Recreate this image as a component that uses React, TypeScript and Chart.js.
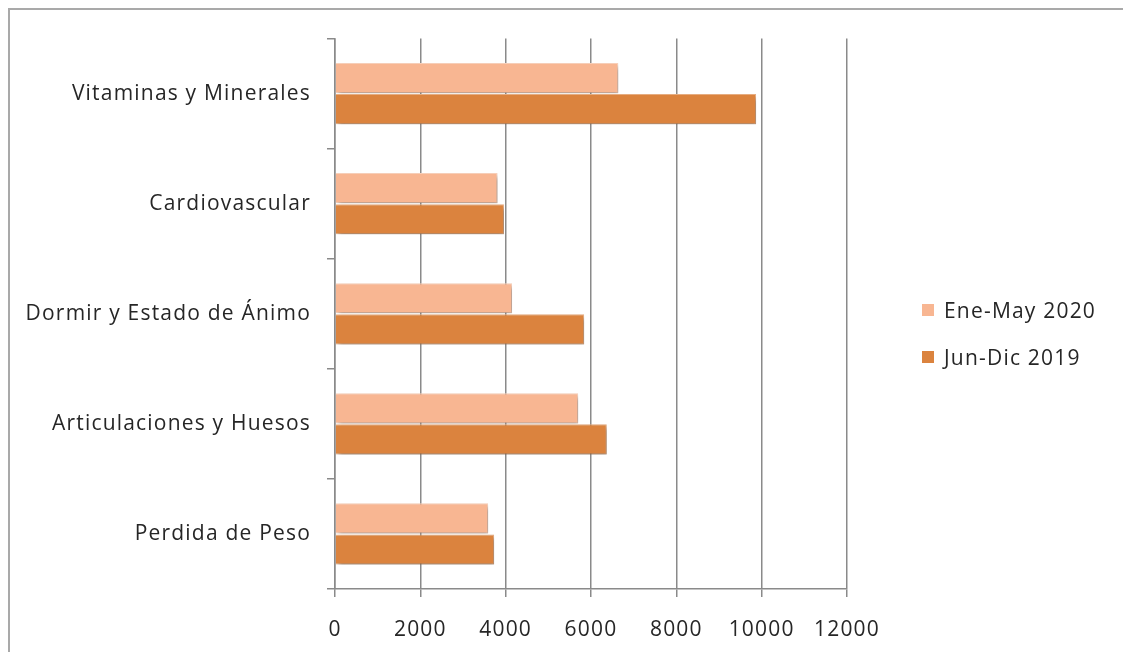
import { useEffect, useRef } from "react";
import { Chart, registerables } from "chart.js";

Chart.register(...registerables);

const categories = [
  "Vitaminas y Minerales",
  "Cardiovascular",
  "Dormir y Estado de Ánimo",
  "Articulaciones y Huesos",
  "Perdida de Peso",
];
const eneMay2020 = [6640, 3810, 4150, 5700, 3590];
const junDic2019 = [9870, 3960, 5840, 6370, 3730];
const seriesNames = ["Ene-May 2020", "Jun-Dic 2019"];
const seriesColors = ["#F8B692", "#DB833E"];
const seriesEdges = ["#FBD3BC", "#EBB083"];
const xTickValues = [0, 2000, 4000, 6000, 8000, 10000, 12000];

const FONT = "'Open Sans', 'Noto Sans', sans-serif";
const FONT_SIZE = 21;
const SPACING = "1.2px";
const TEXT = "#262626";
const GRID = "#8a8a8a";

const BOX_W = 1115;
const BOX_H = 644;

// spaced-out lettering for every label the chart draws
const spacingPlugin = {
  id: "spacing",
  beforeLayout(chart: any) {
    chart.ctx.letterSpacing = SPACING;
  },
  beforeDraw(chart: any) {
    chart.ctx.letterSpacing = SPACING;
  },
};

// soft drop shadow under the bars
const shadowPlugin = {
  id: "barShadow",
  beforeDatasetsDraw(chart: any) {
    const ctx = chart.ctx;
    ctx.save();
    ctx.shadowColor = "rgba(0,0,0,0.38)";
    ctx.shadowBlur = 5;
    ctx.shadowOffsetX = 2;
    ctx.shadowOffsetY = 3;
  },
  afterDatasetsDraw(chart: any) {
    chart.ctx.restore();
  },
};

export default function App() {
  const canvasRef = useRef<HTMLCanvasElement | null>(null);

  useEffect(() => {
    if (!canvasRef.current) return;
    const chart = new Chart(canvasRef.current, {
      type: "bar",
      data: {
        labels: categories,
        datasets: [
          {
            label: seriesNames[0],
            data: eneMay2020,
            backgroundColor: seriesColors[0],
            borderColor: seriesEdges[0],
            borderWidth: 1,
            categoryPercentage: 0.565,
            barPercentage: 0.97,
          },
          {
            label: seriesNames[1],
            data: junDic2019,
            backgroundColor: seriesColors[1],
            borderColor: seriesEdges[1],
            borderWidth: 1,
            categoryPercentage: 0.565,
            barPercentage: 0.97,
          },
        ],
      },
      options: {
        indexAxis: "y",
        animation: false,
        responsive: false,
        maintainAspectRatio: false,
        layout: { padding: { top: 28, right: 276, left: 0, bottom: 0 } },
        plugins: {
          legend: { display: false },
          tooltip: { enabled: false },
        },
        scales: {
          x: {
            min: 0,
            max: 12000,
            afterBuildTicks(scale: any) {
              scale.ticks = xTickValues.map((v) => ({ value: v }));
            },
            afterFit(scale: any) {
              scale.height = BOX_H - 2 - 579;
            },
            ticks: {
              color: TEXT,
              font: { family: FONT, size: FONT_SIZE },
              padding: 20,
              maxRotation: 0,
              autoSkip: false,
              callback: (v: any) => String(v),
            },
            grid: { color: GRID, lineWidth: 1.5, tickLength: 8 },
            border: { display: true, color: GRID, width: 1.5 },
          },
          y: {
            afterFit(scale: any) {
              scale.width = 325;
            },
            ticks: {
              color: TEXT,
              font: { family: FONT, size: FONT_SIZE },
              padding: 16,
              autoSkip: false,
            },
            grid: {
              drawOnChartArea: false,
              color: GRID,
              lineWidth: 1.5,
              tickLength: 8,
              offset: true,
            },
            border: { display: true, color: GRID, width: 1.5 },
          },
        },
      },
      plugins: [spacingPlugin, shadowPlugin],
    });
    return () => chart.destroy();
  }, []);

  const legendRow = (i: number, top: number) => (
    <div
      key={i}
      style={{
        position: "absolute",
        left: 912,
        top,
        height: 24,
        display: "flex",
        alignItems: "center",
        fontFamily: FONT,
        fontSize: FONT_SIZE,
        letterSpacing: SPACING,
        color: TEXT,
        whiteSpace: "nowrap",
      }}
    >
      <span
        style={{
          display: "inline-block",
          width: 12,
          height: 12,
          background: seriesColors[i],
          marginRight: 10,
        }}
      />
      {seriesNames[i]}
    </div>
  );

  return (
    <div
      style={{
        position: "fixed",
        left: 8,
        top: 8,
        width: BOX_W,
        height: BOX_H,
        boxSizing: "border-box",
        borderTop: "2px solid #a9a9a9",
        borderLeft: "2px solid #a9a9a9",
        background: "#fff",
        overflow: "hidden",
      }}
    >
      <canvas
        ref={canvasRef}
        width={BOX_W - 2}
        height={BOX_H - 2}
        style={{ position: "absolute", left: 0, top: 0, width: BOX_W - 2, height: BOX_H - 2 }}
      />
      {legendRow(0, 288)}
      {legendRow(1, 335)}
    </div>
  );
}
